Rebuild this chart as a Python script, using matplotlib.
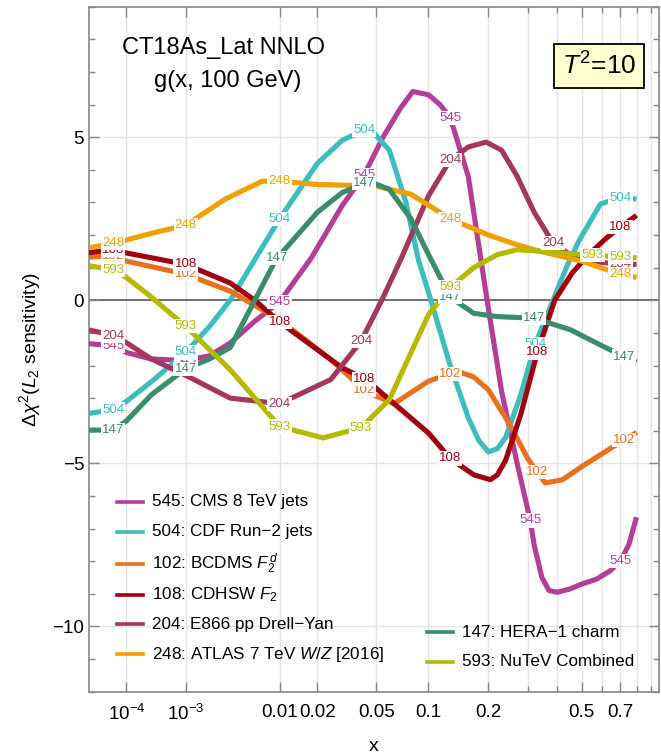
import numpy as np
import matplotlib
matplotlib.use("Agg")
import matplotlib.pyplot as plt
from matplotlib.lines import Line2D

plt.rcParams['font.family'] = ['Liberation Sans', 'DejaVu Sans']
plt.rcParams['mathtext.fontset'] = 'custom'
plt.rcParams['mathtext.rm'] = 'Liberation Sans'
plt.rcParams['mathtext.it'] = 'Liberation Sans:italic'

# ---- sensitivity curves, Delta chi^2 vs x ----
x_545 = [1e-5, 5e-5, 1e-4, 3e-4, 1e-3, 0.002, 0.0034, 0.006, 0.01, 0.018, 0.03, 0.042, 0.055, 0.07, 0.082, 0.1, 0.115, 0.13, 0.16, 0.197, 0.23, 0.27, 0.308, 0.32, 0.345, 0.37, 0.4, 0.45, 0.5, 0.57, 0.64, 0.7, 0.75, 0.8]
y_545 = [-1.33, -1.4, -1.6, -1.8, -1.85, -1.7, -1.31, -0.64, -0.05, 1.3, 2.9, 3.85, 5.0, 5.9, 6.4, 6.3, 6.0, 5.6, 3.8, 0.0, -2.8, -5.0, -6.75, -7.5, -8.5, -8.9, -8.95, -8.85, -8.7, -8.55, -8.3, -8.0, -7.5, -6.65]

x_504 = [1e-5, 5e-5, 1e-4, 3e-4, 1e-3, 0.002, 0.0034, 0.006, 0.01, 0.02, 0.03, 0.045, 0.06, 0.075, 0.088, 0.103, 0.13, 0.16, 0.18, 0.2, 0.22, 0.24, 0.28, 0.323, 0.384, 0.44, 0.49, 0.59, 0.7, 0.8]
y_504 = [-3.47, -3.35, -3.1, -2.5, -1.6, -0.8, 0.0, 1.25, 2.5, 4.2, 4.9, 5.3, 4.6, 3.0, 1.25, 0.0, -2.0, -3.6, -4.3, -4.65, -4.55, -4.2, -2.9, -1.35, 0.0, 1.1, 1.85, 2.95, 3.15, 3.1]

x_102 = [1e-5, 5e-5, 1e-4, 1e-3, 0.0034, 0.01, 0.025, 0.043, 0.064, 0.1, 0.13, 0.145, 0.17, 0.2, 0.25, 0.3, 0.356, 0.42, 0.5, 0.6, 0.7, 0.8]
y_102 = [1.32, 1.37, 1.2, 0.8, 0.28, -0.6, -1.82, -2.8, -3.17, -2.48, -2.25, -2.2, -2.35, -2.75, -3.8, -4.85, -5.6, -5.5, -5.1, -4.7, -4.35, -4.05]

x_108 = [1e-5, 5e-5, 1e-4, 1e-3, 0.0034, 0.006, 0.01, 0.03, 0.043, 0.1, 0.13, 0.17, 0.204, 0.22, 0.24, 0.28, 0.33, 0.39, 0.46, 0.54, 0.62, 0.7, 0.8]
y_108 = [1.46, 1.55, 1.45, 1.1, 0.53, 0.0, -0.67, -2.07, -2.43, -4.07, -4.85, -5.35, -5.5, -5.35, -4.9, -3.5, -1.6, 0.0, 0.85, 1.45, 1.9, 2.25, 2.6]

x_204 = [1e-5, 5e-5, 1e-4, 3e-4, 1e-3, 0.0034, 0.01, 0.025, 0.04, 0.054, 0.07, 0.1, 0.13, 0.16, 0.195, 0.23, 0.27, 0.32, 0.384, 0.45, 0.54, 0.7, 0.8]
y_204 = [-0.91, -1.08, -1.3, -1.8, -2.3, -3.0, -3.17, -2.43, -1.26, 0.0, 1.25, 3.2, 4.3, 4.7, 4.85, 4.6, 3.8, 2.7, 1.75, 1.4, 1.2, 1.1, 1.1]

x_248 = [1e-5, 5e-5, 1e-4, 3e-4, 1e-3, 0.003, 0.007, 0.01, 0.02, 0.05, 0.08, 0.13, 0.2, 0.27, 0.34, 0.5, 0.7, 0.8]
y_248 = [1.61, 1.75, 1.85, 2.05, 2.3, 3.1, 3.65, 3.65, 3.55, 3.5, 3.25, 2.5, 2.0, 1.7, 1.5, 1.2, 0.8, 0.7]

x_147 = [1e-5, 5e-5, 1e-4, 3e-4, 1e-3, 0.002, 0.0034, 0.0093, 0.02, 0.03, 0.045, 0.06, 0.08, 0.1, 0.13, 0.17, 0.22, 0.32, 0.45, 0.6, 0.73, 0.8]
y_147 = [-3.98, -3.98, -3.7, -2.9, -2.1, -1.8, -1.45, 1.25, 2.7, 3.3, 3.65, 3.4, 2.5, 1.4, 0.1, -0.4, -0.5, -0.55, -0.9, -1.4, -1.75, -1.9]

x_593 = [1e-5, 5e-5, 1e-4, 3e-4, 1e-3, 0.0034, 0.01, 0.022, 0.04, 0.06, 0.1, 0.13, 0.17, 0.22, 0.27, 0.35, 0.5, 0.8]
y_593 = [1.06, 0.94, 0.7, 0.1, -0.8, -2.13, -3.87, -4.22, -3.91, -3.05, -0.44, 0.4, 1.0, 1.4, 1.55, 1.5, 1.4, 1.3]

# x positions where each curve carries its own ID tag
tags_545 = [5e-5, 1e-3, 0.01, 0.042, 0.13, 0.308, 0.7]
tags_504 = [5e-5, 1e-3, 0.01, 0.042, 0.323, 0.7]
tags_102 = [5e-5, 1e-3, 0.042, 0.13, 0.33, 0.72]
tags_108 = [5e-5, 1e-3, 0.01, 0.042, 0.13, 0.33, 0.7]
tags_204 = [5e-5, 0.01, 0.04, 0.13, 0.384, 0.7]
tags_248 = [5e-5, 1e-3, 0.01, 0.13, 0.7]
tags_147 = [5e-5, 1e-3, 0.0095, 0.042, 0.13, 0.32, 0.72]
tags_593 = [5e-5, 1e-3, 0.01, 0.04, 0.13, 0.55, 0.7]

series = [
    ("545", "545: CMS 8 TeV jets", "#B23E96", x_545, y_545, tags_545),
    ("504", "504: CDF Run\u22122 jets", "#3DBDBD", x_504, y_504, tags_504),
    ("102", "102: BCDMS $F_2^{\\,d}$", "#E8701E", x_102, y_102, tags_102),
    ("108", "108: CDHSW $F_2$", "#A00010", x_108, y_108, tags_108),
    ("204", "204: E866 pp Drell\u2212Yan", "#A3385C", x_204, y_204, tags_204),
    ("248", "248: ATLAS 7 TeV $W/Z$ [2016]", "#F0A000", x_248, y_248, tags_248),
    ("147", "147: HERA\u22121 charm", "#3A8C6A", x_147, y_147, tags_147),
    ("593", "593: NuTeV Combined", "#B5BA00", x_593, y_593, tags_593),
]

xticks_major = [1e-4, 1e-3, 0.01, 0.02, 0.05, 0.1, 0.2, 0.5, 0.7]
xtick_labels = ["10$^{-4}$", "10$^{-3}$", "0.01", "0.02", "0.05", "0.1", "0.2", "0.5", "0.7"]
xticks_minor = [0.3, 0.4, 0.6, 0.8, 0.9]
yticks_major = [-10, -5, 0, 5]

W, H = 661, 754
fig = plt.figure(figsize=(W / 100, H / 100), dpi=100)
ax = fig.add_axes([89 / W, 1 - 691.7 / H, (659 - 89) / W, (691.7 - 6.7) / H])

power = 0.2
ax.set_xscale('function', functions=(lambda v: np.power(np.clip(v, 1e-12, None), power),
                                     lambda u: np.power(np.clip(u, 0, None), 1 / power)))
ax.set_xlim(1e-5, 0.958)
ax.set_ylim(-12, 9)

grid_c = "#E4E4E4"
for xv in xticks_major + xticks_minor:
    ax.axvline(xv, color=grid_c, lw=1.0, zorder=0)
for yv in [-10, -5, 5]:
    ax.axhline(yv, color=grid_c, lw=1.0, zorder=0)
ax.axhline(0, color="#555555", lw=1.2, zorder=1)

for key, lab, col, xs, ys, tags in series:
    ax.plot(xs, ys, color=col, lw=3.7, solid_capstyle='butt', solid_joinstyle='round', zorder=3)
    u = np.power(xs, power)
    for tx in tags:
        ty = np.interp(tx ** power, u, ys)
        ax.text(tx, ty, key, color=col, fontsize=9.5, ha='center', va='center', zorder=5,
                bbox=dict(boxstyle='square,pad=0.08', fc='white', ec='none'))

ax.set_xticks(xticks_major)
ax.set_xticklabels(xtick_labels)
ax.set_xticks(xticks_minor, minor=True)
ax.set_yticks(yticks_major)
ax.set_yticklabels(["\u221210", "\u22125", "0", "5"])
ax.set_yticks(np.arange(-12, 10, 1), minor=True)
ax.tick_params(which='both', direction='in', top=True, right=True, colors='#888888',
               labelcolor='black', labelsize=13.5)
ax.tick_params(which='major', length=7, width=1)
ax.tick_params(which='minor', length=4, width=1)
ax.tick_params(axis='x', which='major', pad=9)
for sp in ax.spines.values():
    sp.set_color('#888888')
    sp.set_linewidth(1.2)

ax.set_xlabel("x", fontsize=14, labelpad=10)
fig.text(30 / W, 1 - 349 / H, "\u0394$\\chi^2$($L_2$ sensitivity)", rotation=90,
         ha='center', va='center', fontsize=14)

fig.text(223 / W, 1 - 48 / H, "CT18As_Lat NNLO", ha='center', va='center', fontsize=17)
fig.text(228 / W, 1 - 81 / H, "g(x, 100 GeV)", ha='center', va='center', fontsize=17)
fig.text(599 / W, 1 - 66 / H, "$T^2$=10", ha='center', va='center', fontsize=19,
         bbox=dict(boxstyle='square,pad=0.3', fc='#FFFFD2', ec='black', lw=1.3))

# legend blocks
left_rows = [501.7, 531.7, 564, 595, 624.3, 654]
right_rows = [632.3, 661.7]
rows = [(116.7, 151.7, r) for r in left_rows] + [(426.7, 461.7, r) for r in right_rows]
for (lx, tx, ry), (key, lab, col, *_rest) in zip(rows, series):
    fig.add_artist(Line2D([lx / W, (lx + 26) / W], [1 - ry / H, 1 - ry / H], color=col, lw=2.6))
    fig.text(tx / W, 1 - ry / H, lab, ha='left', va='center', fontsize=12.3)

fig.savefig("out.png", dpi=100)
